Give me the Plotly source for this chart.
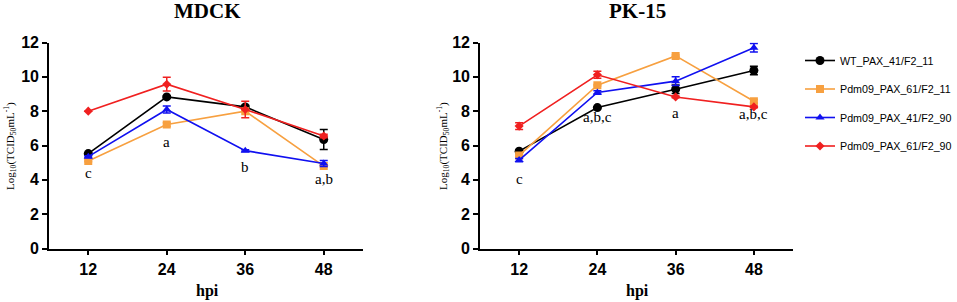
import plotly.graph_objects as go

hpi = [12, 24, 36, 48]
series = ["WT_PAX_41/F2_11", "Pdm09_PAX_61/F2_11", "Pdm09_PAX_41/F2_90", "Pdm09_PAX_61/F2_90"]
colors = ["#000000", "#F7A040", "#1010F0", "#F02020"]
symbols = ["circle", "square", "triangle-up", "diamond"]
msizes = [9, 8, 8, 7]

# MDCK
mdck_wt = [5.53, 8.83, 8.25, 6.35]
mdck_61_11 = [5.10, 7.22, 8.00, 4.80]
mdck_41_90 = [5.35, 8.10, 5.70, 4.95]
mdck_61_90 = [8.00, 9.57, 8.10, 6.55]
mdck_wt_err = [0.05, 0.05, 0.1, 0.58]
mdck_61_11_err = [0.05, 0.1, 0.05, 0.05]
mdck_41_90_err = [0.05, 0.2, 0.05, 0.18]
mdck_61_90_err = [0.0, 0.4, 0.48, 0.1]

# PK-15
pk_wt = [5.67, 8.21, 9.28, 10.37]
pk_61_11 = [5.42, 9.51, 11.22, 8.58]
pk_41_90 = [5.15, 9.09, 9.75, 11.69]
pk_61_90 = [7.13, 10.12, 8.83, 8.25]
pk_wt_err = [0.05, 0.05, 0.25, 0.25]
pk_61_11_err = [0.05, 0.05, 0.05, 0.1]
pk_41_90_err = [0.1, 0.1, 0.25, 0.25]
pk_61_90_err = [0.2, 0.2, 0.05, 0.05]

# significance letters (x, y, text)
mdck_letters_x = [12, 24, 36, 48]
mdck_letters_y = [4.40, 6.20, 4.75, 4.05]
mdck_letters = ["c", "a", "b", "a,b"]
pk_letters_x = [12, 24, 36, 48]
pk_letters_y = [4.05, 7.65, 7.92, 7.86]
pk_letters = ["c", "a,b,c", "a", "a,b,c"]

ytick_vals = [0, 2, 4, 6, 8, 10, 12]

mdck = [mdck_wt, mdck_61_11, mdck_41_90, mdck_61_90]
mdck_err = [mdck_wt_err, mdck_61_11_err, mdck_41_90_err, mdck_61_90_err]
pk = [pk_wt, pk_61_11, pk_41_90, pk_61_90]
pk_err = [pk_wt_err, pk_61_11_err, pk_41_90_err, pk_61_90_err]

fig = go.Figure()
for panel, (data, errs, xa, ya) in enumerate([(mdck, mdck_err, "x", "y"), (pk, pk_err, "x2", "y2")]):
    for i in range(4):
        fig.add_trace(go.Scatter(
            x=hpi, y=data[i], mode="lines+markers",
            name=series[i], legendgroup=series[i], showlegend=(panel == 1),
            line=dict(color=colors[i], width=1.6),
            marker=dict(symbol=symbols[i], size=msizes[i], color=colors[i]),
            error_y=dict(type="data", array=errs[i], color=colors[i], thickness=1.5, width=4),
            xaxis=xa, yaxis=ya,
        ))

W, H = 957, 302
def px(x):
    return x / W
def py(y):
    return (H - y) / H

axis_common = dict(showline=True, linecolor="black", linewidth=1.6, ticks="outside",
                   ticklen=5, tickwidth=1.5, tickcolor="black", showgrid=False, zeroline=False,
                   tickfont=dict(family="Liberation Sans, Arial", size=16, color="black", weight="bold"))

fig.update_layout(
    width=W, height=H, margin=dict(l=0, r=0, t=0, b=0, autoexpand=False),
    paper_bgcolor="white", plot_bgcolor="white",
    xaxis=dict(domain=[px(49), px(363)], range=[6, 54], tickvals=hpi, anchor="y", **axis_common),
    yaxis=dict(domain=[py(248.5), py(42.5)], range=[0, 12], tickvals=ytick_vals, anchor="x", **axis_common),
    xaxis2=dict(domain=[px(480), px(793)], range=[6, 54], tickvals=hpi, anchor="y2", **axis_common),
    yaxis2=dict(domain=[py(248.5), py(42.5)], range=[0, 12], tickvals=ytick_vals, anchor="x2", **axis_common),
    legend=dict(x=px(800), y=py(46), xanchor="left", yanchor="top",
                font=dict(family="Liberation Sans, Arial", size=10.7, color="black"),
                tracegroupgap=9.5, itemwidth=30, bgcolor="rgba(0,0,0,0)"),
    showlegend=True,
)

serif = "Liberation Serif, Times New Roman"
ann = []
ann.append(dict(text="<b>MDCK</b>", x=px(207), y=py(11), xref="paper", yref="paper", showarrow=False,
                font=dict(family=serif, size=21, color="black"), xanchor="center", yanchor="middle"))
ann.append(dict(text="<b>PK-15</b>", x=px(637), y=py(11), xref="paper", yref="paper", showarrow=False,
                font=dict(family=serif, size=21, color="black"), xanchor="center", yanchor="middle"))
for cx in (207, 637):
    ann.append(dict(text="<b>hpi</b>", x=px(cx), y=py(291), xref="paper", yref="paper", showarrow=False,
                    font=dict(family=serif, size=16, color="black"), xanchor="center", yanchor="middle"))
for lx in (10, 443):
    ann.append(dict(text="Log<sub>10</sub>(TCID<sub>50</sub>mL<sup>-1</sup>)", x=px(lx), y=py(146),
                    xref="paper", yref="paper", showarrow=False, textangle=-90,
                    font=dict(family=serif, size=11, color="black"), xanchor="center", yanchor="middle"))
for xs, ys, ts, xr, yr in [(mdck_letters_x, mdck_letters_y, mdck_letters, "x", "y"),
                            (pk_letters_x, pk_letters_y, pk_letters, "x2", "y2")]:
    for xv, yv, t in zip(xs, ys, ts):
        ann.append(dict(text=t, x=xv, y=yv, xref=xr, yref=yr, showarrow=False,
                        font=dict(family=serif, size=15, color="black"), xanchor="center", yanchor="middle"))
fig.update_layout(annotations=ann)

fig.write_html("out.html", config={"displayModeBar": False},
               post_script="document.body.style.margin='0px';document.body.style.overflow='hidden';")
